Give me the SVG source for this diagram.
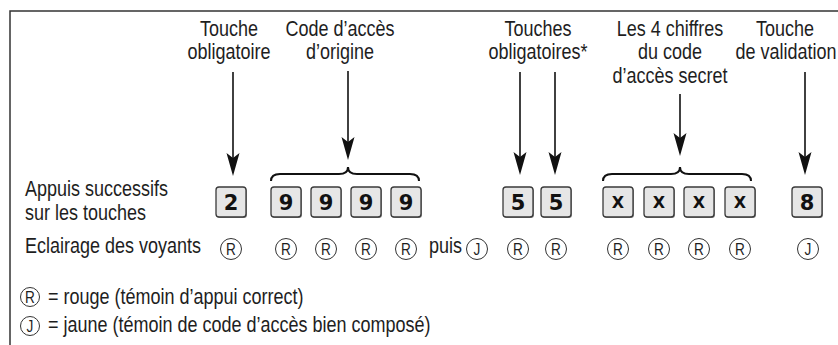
<svg xmlns="http://www.w3.org/2000/svg" width="838" height="345" viewBox="0 0 838 345">
<style>
text{font-family:"Liberation Sans",Arial,sans-serif;fill:#1e1e1e;}
.lbl{font-size:22.5px;text-anchor:middle;}
.txt{font-size:22.5px;}
.end{text-anchor:end;}
.key{fill:#e6e6e6;stroke:#3a3a3a;stroke-width:1.3;}
.ksh{fill:#8a8a8a;}
.kt{font-family:"DejaVu Sans",sans-serif;font-weight:bold;font-size:21px;text-anchor:middle;fill:#111;}
.kx{font-family:"DejaVu Sans",sans-serif;font-weight:bold;font-size:16px;text-anchor:middle;fill:#111;}
.ind{fill:#fff;stroke:#333;stroke-width:1;}
.il{font-size:17px;text-anchor:middle;}
.arr{stroke:#111;stroke-width:1.6;fill:none;marker-end:url(#ah);}
.brace{stroke:#111;stroke-width:2;fill:none;}
.frame{stroke:#333;stroke-width:1.5;fill:none;}
</style>
<defs>
<marker id="ah" markerUnits="userSpaceOnUse" viewBox="0 -7 24 14" markerWidth="24" markerHeight="14" refX="19" refY="0" orient="auto">
<path d="M0,-6.5 L23,0 L0,6.5 L5,0 Z" fill="#111"/>
</marker>
</defs>
<path class="frame" d="M10,345 L10,11 L838,11"/>

<g id="label-touche-obligatoire"><text class="lbl" transform="translate(229,35.5) scale(0.8,1)">Touche</text><text class="lbl" transform="translate(229,59) scale(0.8,1)">obligatoire</text></g>
<g id="label-code-origine"><text class="lbl" transform="translate(340,35.5) scale(0.8,1)">Code d’accès</text><text class="lbl" transform="translate(340,59) scale(0.8,1)">d’origine</text></g>
<g id="label-touches-obligatoires"><text class="lbl" transform="translate(538,35.5) scale(0.8,1)">Touches</text><text class="lbl" transform="translate(538,59) scale(0.8,1)">obligatoires*</text></g>
<g id="label-code-secret"><text class="lbl" transform="translate(670,35.5) scale(0.8,1)">Les 4 chiffres</text><text class="lbl" transform="translate(670,59) scale(0.8,1)">du code</text><text class="lbl" transform="translate(670,82.5) scale(0.8,1)">d’accès secret</text></g>
<g id="label-validation"><text class="lbl" transform="translate(785,35.5) scale(0.8,1)">Touche</text><text class="lbl" transform="translate(786,59) scale(0.8,1)">de validation</text></g>

<g id="row-labels">
<text class="txt" transform="translate(25,196) scale(0.8,1)">Appuis successifs</text>
<text class="txt" transform="translate(25,220) scale(0.8,1)">sur les touches</text>
<text class="txt" transform="translate(25,253) scale(0.8,1)">Eclairage des voyants</text>
</g>

<g id="connectors">
<line class="arr" x1="233" y1="72" x2="233" y2="172"/>
<line class="arr" x1="348" y1="71" x2="348" y2="156"/>
<line class="arr" x1="520" y1="72" x2="520" y2="171"/>
<line class="arr" x1="555" y1="72" x2="555" y2="171"/>
<line class="arr" x1="680" y1="94" x2="680" y2="152"/>
<line class="arr" x1="805" y1="72" x2="805" y2="171"/>
<path class="brace" d="M271,181 Q271,174 280,174 L339,174 Q348,174 348,167 Q348,174 357,174 L410,174 Q419,174 419,181"/>
<path class="brace" d="M603,181 Q603,174 612,174 L671,174 Q680,174 680,167 Q680,174 689,174 L742,174 Q751,174 751,181"/>
</g>

<g id="key-2"><rect class="ksh" x="217" y="188" width="30" height="30" rx="3"/><rect class="key" x="216" y="187" width="30" height="30" rx="3"/><text class="kt" x="231" y="210">2</text></g>
<g id="key-9a"><rect class="ksh" x="272" y="188" width="30" height="30" rx="3"/><rect class="key" x="271" y="187" width="30" height="30" rx="3"/><text class="kt" x="286" y="210">9</text></g>
<g id="key-9b"><rect class="ksh" x="312" y="188" width="30" height="30" rx="3"/><rect class="key" x="311" y="187" width="30" height="30" rx="3"/><text class="kt" x="326" y="210">9</text></g>
<g id="key-9c"><rect class="ksh" x="352" y="188" width="30" height="30" rx="3"/><rect class="key" x="351" y="187" width="30" height="30" rx="3"/><text class="kt" x="366" y="210">9</text></g>
<g id="key-9d"><rect class="ksh" x="392" y="188" width="30" height="30" rx="3"/><rect class="key" x="391" y="187" width="30" height="30" rx="3"/><text class="kt" x="406" y="210">9</text></g>
<g id="key-5a"><rect class="ksh" x="504" y="188" width="30" height="30" rx="3"/><rect class="key" x="503" y="187" width="30" height="30" rx="3"/><text class="kt" x="518" y="210">5</text></g>
<g id="key-5b"><rect class="ksh" x="542" y="188" width="30" height="30" rx="3"/><rect class="key" x="541" y="187" width="30" height="30" rx="3"/><text class="kt" x="556" y="210">5</text></g>
<g id="key-xa"><rect class="ksh" x="604" y="188" width="30" height="30" rx="3"/><rect class="key" x="603" y="187" width="30" height="30" rx="3"/><text class="kx" x="618" y="208">X</text></g>
<g id="key-xb"><rect class="ksh" x="645" y="188" width="30" height="30" rx="3"/><rect class="key" x="644" y="187" width="30" height="30" rx="3"/><text class="kx" x="659" y="208">X</text></g>
<g id="key-xc"><rect class="ksh" x="685" y="188" width="30" height="30" rx="3"/><rect class="key" x="684" y="187" width="30" height="30" rx="3"/><text class="kx" x="699" y="208">X</text></g>
<g id="key-xd"><rect class="ksh" x="726" y="188" width="30" height="30" rx="3"/><rect class="key" x="725" y="187" width="30" height="30" rx="3"/><text class="kx" x="740" y="208">X</text></g>
<g id="key-8"><rect class="ksh" x="793" y="188" width="30" height="30" rx="3"/><rect class="key" x="792" y="187" width="30" height="30" rx="3"/><text class="kt" x="807" y="210">8</text></g>

<g id="indicators">
<circle class="ind" cx="231" cy="249" r="10.5"/><text class="il" transform="translate(231,255) scale(0.8,1)">R</text>
<circle class="ind" cx="286" cy="249" r="10.5"/><text class="il" transform="translate(286,255) scale(0.8,1)">R</text>
<circle class="ind" cx="326" cy="249" r="10.5"/><text class="il" transform="translate(326,255) scale(0.8,1)">R</text>
<circle class="ind" cx="366" cy="249" r="10.5"/><text class="il" transform="translate(366,255) scale(0.8,1)">R</text>
<circle class="ind" cx="406" cy="249" r="10.5"/><text class="il" transform="translate(406,255) scale(0.8,1)">R</text>
<text class="txt end" transform="translate(462,253) scale(0.8,1)">puis</text>
<circle class="ind" cx="477" cy="249" r="10.5"/><text class="il" transform="translate(477,255) scale(0.8,1)">J</text>
<circle class="ind" cx="518" cy="249" r="10.5"/><text class="il" transform="translate(518,255) scale(0.8,1)">R</text>
<circle class="ind" cx="556" cy="249" r="10.5"/><text class="il" transform="translate(556,255) scale(0.8,1)">R</text>
<circle class="ind" cx="618" cy="249" r="10.5"/><text class="il" transform="translate(618,255) scale(0.8,1)">R</text>
<circle class="ind" cx="659" cy="249" r="10.5"/><text class="il" transform="translate(659,255) scale(0.8,1)">R</text>
<circle class="ind" cx="699" cy="249" r="10.5"/><text class="il" transform="translate(699,255) scale(0.8,1)">R</text>
<circle class="ind" cx="740" cy="249" r="10.5"/><text class="il" transform="translate(740,255) scale(0.8,1)">R</text>
<circle class="ind" cx="808" cy="249" r="10.5"/><text class="il" transform="translate(808,255) scale(0.8,1)">J</text>
</g>

<g id="legend">
<circle class="ind" cx="30" cy="297" r="9.5"/><text class="il" transform="translate(30,303) scale(0.8,1)">R</text>
<text class="txt" transform="translate(48,304) scale(0.8,1)">= rouge (témoin d’appui correct)</text>
<circle class="ind" cx="30" cy="326" r="9.5"/><text class="il" transform="translate(30,332) scale(0.8,1)">J</text>
<text class="txt" transform="translate(48,332) scale(0.8,1)">= jaune (témoin de code d’accès bien composé)</text>
</g>
</svg>
